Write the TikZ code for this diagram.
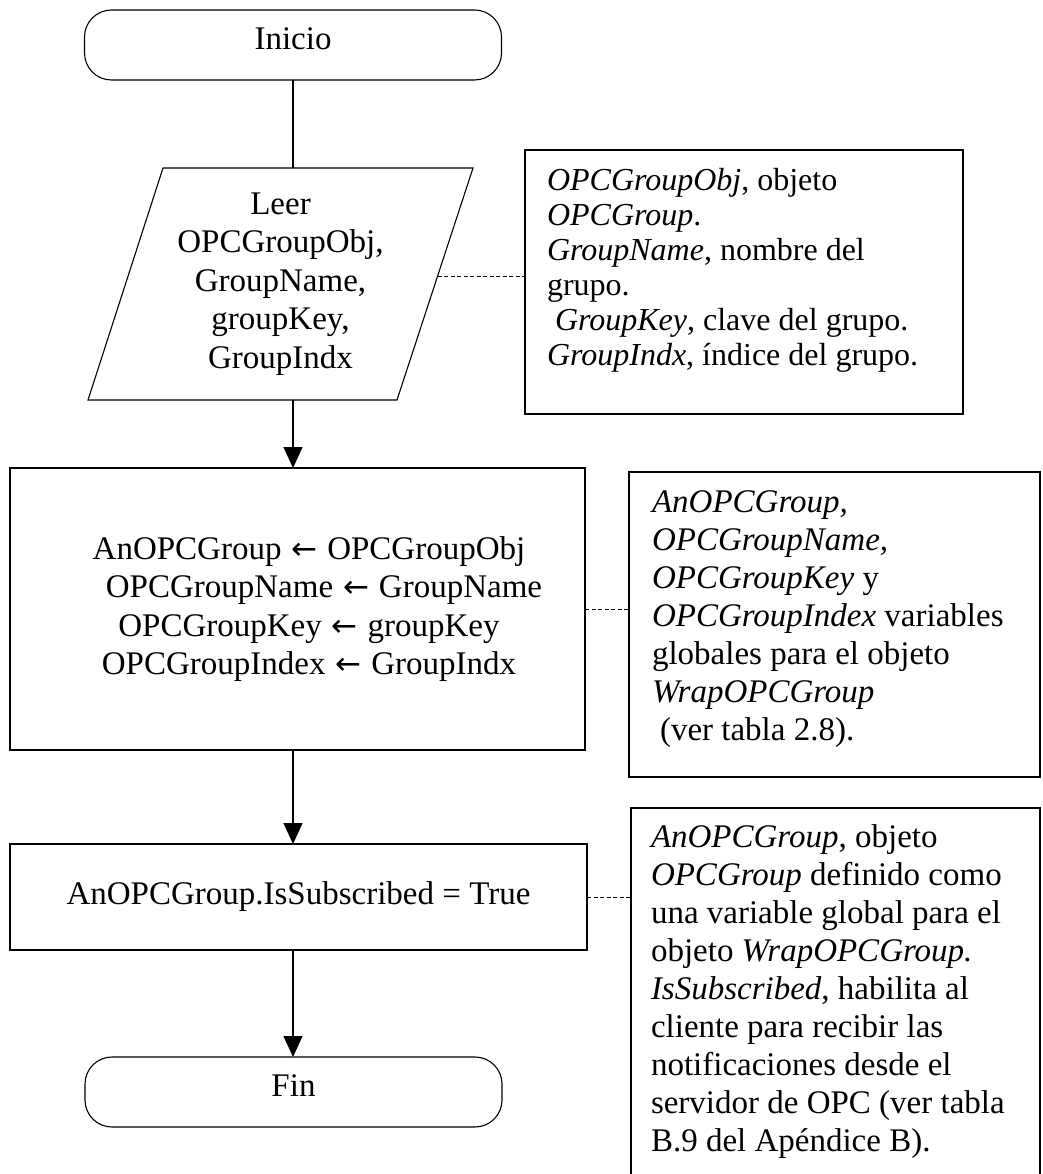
\documentclass[tikz,border=0pt]{standalone}
\usepackage{fontspec}
\setmainfont{Liberation Serif}
\newfontfamily\arrowfont{DejaVu Sans}
\newcommand{\assignarrow}{\hspace{0.3em}{\arrowfont\fontsize{31}{38.5}\selectfont ←}\hspace{0.3em}}
\usetikzlibrary{arrows.meta,calc}

\begin{document}
\begin{tikzpicture}[x=1pt,y=-1pt,
  every node/.style={inner sep=0pt, outer sep=0pt},
  line/.style={line width=1.1pt, black},
  flow/.style={line, -{Triangle[length=21pt,width=19pt]}},
  notelink/.style={line width=0.8pt, dash pattern=on 4pt off 2.5pt},
  mainfont/.style={font=\fontsize{33}{38.5}\selectfont},
  terminal/.style={draw, line width=1.1pt, rounded corners=27pt,
    minimum width=417pt, minimum height=70pt, mainfont, text depth=12pt},
  procbox/.style={draw, line width=1.1pt},
  iotext/.style={mainfont, align=center, minimum width=385pt, minimum height=229pt},
  proctext/.style={mainfont, align=center},
  notebox/.style={draw, line width=1.1pt, anchor=north west},
  notetext/.style={align=left, anchor=north west},
  smallnote/.style={font=\fontsize{32}{35}\selectfont},
  bignote/.style={font=\fontsize{33}{38}\selectfont}
]
\fill[white] (0,0) rectangle (1042,1174);
\useasboundingbox (0,0) rectangle (1042,1174);
\clip (0,0) rectangle (1042,1174);

% main flow
\node[terminal] (inicio) at (293,45) {Inicio};

\node[iotext] (leer) at (280.5,284)
  {Leer\\OPCGroupObj,\\GroupName,\\groupKey,\\GroupIndx};
\draw[line] ($(leer.north west)+(75,-1.5)$) -- ($(leer.north east)+(0,-1.5)$)
  -- ($(leer.south east)+(-76,1.5)$) -- ($(leer.south west)+(0,1.5)$) -- cycle;
\coordinate (leerTR) at ($(leer.north east)+(0,-1.5)$);
\coordinate (leerBR) at ($(leer.south east)+(-76,1.5)$);
\coordinate (leerR) at ($(leerTR)!0.467!(leerBR)$);

\node[procbox, minimum width=575pt, minimum height=282pt] (proc) at (297.5,609) {};
\node[proctext] (proctxt) at (309,609)
  {AnOPCGroup\assignarrow OPCGroupObj\\
   \hspace*{30pt}OPCGroupName\assignarrow GroupName\\
   OPCGroupKey\assignarrow groupKey\\
   OPCGroupIndex\assignarrow GroupIndx};

\node[procbox, mainfont, minimum width=577pt, minimum height=106pt] (sub) at (298.5,897)
  {AnOPCGroup.IsSubscribed = True};

\node[terminal] (fin) at (293.5,1092) {Fin};

\draw[line] (inicio.south) -- (inicio.south |- leerTR);
\draw[flow] (inicio.south |- leerBR) -- (inicio.south |- proc.north);
\draw[flow] (inicio.south |- proc.south) -- (inicio.south |- sub.north);
\draw[flow] (inicio.south |- sub.south) -- (inicio.south |- fin.north);

% annotations
\node[notebox, minimum width=438pt, minimum height=264pt] (a1) at (525,150) {};
\node[notetext, smallnote] (a1txt) at (547,165.5)
  {\strut\textit{OPCGroupObj}, objeto\\
   \textit{OPCGroup}.\\
   \textit{GroupName}, nombre del\\
   grupo.\\
   \hspace*{8pt}\textit{GroupKey}, clave del grupo.\\
   \textit{GroupIndx}, índice del grupo.};

\node[notebox, minimum width=411pt, minimum height=305pt] (a2) at (629,472) {};
\node[notetext, bignote] (a2txt) at (652,485.4)
  {\strut\textit{AnOPCGroup,}\\
   \textit{OPCGroupName,}\\
   \textit{OPCGroupKey} y\\
   \textit{OPCGroupIndex} variables\\
   globales para el objeto\\
   \textit{WrapOPCGroup}\\
   \hspace*{8pt}(ver tabla 2.8).};

\node[notebox, minimum width=409pt, minimum height=420pt] (a3) at (631,808) {};
\node[notetext, bignote] (a3txt) at (651,820.4)
  {\strut\textit{AnOPCGroup}, objeto\\
   \textit{OPCGroup} definido como\\
   una variable global para el\\
   objeto \textit{WrapOPCGroup.}\\
   \textit{IsSubscribed}, habilita al\\
   cliente para recibir las\\
   notificaciones desde el\\
   servidor de OPC (ver tabla\\
   B.9 del Apéndice B).};

\draw[notelink] (leerR) -- (leerR -| a1.west);
\draw[notelink] (proc.east) -- (proc.east -| a2.west);
\draw[notelink] (sub.east) -- (sub.east -| a3.west);
\end{tikzpicture}
\end{document}
